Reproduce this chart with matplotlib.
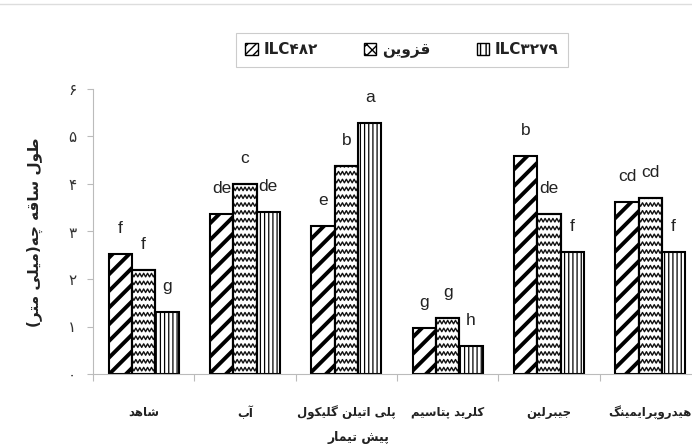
import matplotlib
matplotlib.use("Agg")
import matplotlib.pyplot as plt
import numpy as np
from matplotlib.patches import Patch
from matplotlib.lines import Line2D

# data
treatments = ["شاهد", "آب", "پلی اتیلن گلیکول", "کلرید پتاسیم", "جیبرلین", "هیدروپرایمینگ"]
ilc482 = [2.52, 3.37, 3.12, 0.96, 4.58, 3.63]
qazvin = [2.18, 3.99, 4.37, 1.18, 3.37, 3.70]
ilc3279 = [1.31, 3.41, 5.29, 0.59, 2.56, 2.56]
letters482 = ["f", "de", "e", "g", "b", "cd"]
lettersQ = ["f", "c", "b", "g", "de", "cd"]
letters3279 = ["g", "de", "a", "h", "f", "f"]
series_names = ["ILC۴۸۲", "قزوین", "ILC۳۲۷۹"]
ytick_vals = [0, 1, 2, 3, 4, 5, 6]
ytick_labels = ["۰", "۱", "۲", "۳", "۴", "۵", "۶"]
ylabel = "طول ساقه چه(میلی متر)"
xlabel = "پیش تیمار"

# presentation forms (isolated, final, initial, medial)
FORMS = {
    "ا": (0xFE8D, 0xFE8E), "آ": (0xFE81, 0xFE82),
    "ب": (0xFE8F, 0xFE90, 0xFE91, 0xFE92), "پ": (0xFB56, 0xFB57, 0xFB58, 0xFB59),
    "ت": (0xFE95, 0xFE96, 0xFE97, 0xFE98), "ج": (0xFE9D, 0xFE9E, 0xFE9F, 0xFEA0),
    "چ": (0xFB7A, 0xFB7B, 0xFB7C, 0xFB7D), "د": (0xFEA9, 0xFEAA),
    "ر": (0xFEAD, 0xFEAE), "ز": (0xFEAF, 0xFEB0),
    "س": (0xFEB1, 0xFEB2, 0xFEB3, 0xFEB4), "ش": (0xFEB5, 0xFEB6, 0xFEB7, 0xFEB8),
    "ط": (0xFEC1, 0xFEC2, 0xFEC3, 0xFEC4), "ق": (0xFED5, 0xFED6, 0xFED7, 0xFED8),
    "ک": (0xFB8E, 0xFB8F, 0xFB90, 0xFB91), "گ": (0xFB92, 0xFB93, 0xFB94, 0xFB95),
    "ل": (0xFEDD, 0xFEDE, 0xFEDF, 0xFEE0), "م": (0xFEE1, 0xFEE2, 0xFEE3, 0xFEE4),
    "ن": (0xFEE5, 0xFEE6, 0xFEE7, 0xFEE8), "ه": (0xFEE9, 0xFEEA, 0xFEEB, 0xFEEC),
    "و": (0xFEED, 0xFEEE), "ی": (0xFBFC, 0xFBFD, 0xFBFE, 0xFBFF),
}


def fa(text):
    # shape persian letters and put them in visual order
    out = []
    for i, ch in enumerate(text):
        if ch not in FORMS:
            out.append(ch)
            continue
        forms = FORMS[ch]
        prev = text[i - 1] if i > 0 else None
        nxt = text[i + 1] if i + 1 < len(text) else None
        jp = prev in FORMS and len(FORMS[prev]) == 4
        jn = len(forms) == 4 and nxt in FORMS
        if jp and jn:
            f = forms[3]
        elif jp:
            f = forms[1]
        elif jn:
            f = forms[2]
        else:
            f = forms[0]
        out.append(chr(f))
    mirror = {"(": ")", ")": "("}
    return "".join(mirror.get(c, c) for c in reversed(out))


plt.rcParams["font.family"] = ["DejaVu Sans"]
fig = plt.figure(figsize=(6.92, 4.48), dpi=100)
ax = fig.add_axes([93 / 692, 74 / 448, 608 / 692, 285 / 448])

x = np.arange(len(treatments))
w = 0.23
with plt.rc_context({"hatch.linewidth": 2.8}):
    b1 = ax.bar(x - w, ilc482, w, color="white", edgecolor="black", linewidth=1.5, hatch="//")
b2 = ax.bar(x, qazvin, w, color="white", edgecolor="black", linewidth=1.5)
with plt.rc_context({"hatch.linewidth": 0.9}):
    b3 = ax.bar(x + w, ilc3279, w, color="white", edgecolor="black", linewidth=1.5, hatch="||||")

# zigzag fill for the middle series
for p in b2.patches:
    x0, wd, h = p.get_x(), p.get_width(), p.get_height()
    xs = np.linspace(x0 - 0.02, x0 + wd + 0.02, 15)
    amp = np.where(np.arange(len(xs)) % 2 == 0, 0.0, 0.075)
    for yy in np.arange(-0.1, h + 0.1, 0.165):
        ln, = ax.plot(xs, yy + amp, color="#111111", lw=1.0, zorder=p.get_zorder() + 0.1)
        ln.set_clip_path(p)
    # outline again on top
    ax.bar(x0 + wd / 2, h, wd, color="none", edgecolor="black", linewidth=1.5, zorder=3)

for xs_, vals, labs in [(x - w, ilc482, letters482), (x, qazvin, lettersQ), (x + w, ilc3279, letters3279)]:
    for xi, v, lab in zip(xs_, vals, labs):
        ax.text(xi, v + 0.38, lab, ha="center", va="bottom", fontsize=12.5,
                family="Liberation Sans", color="#222222")

ax.set_xlim(-0.5, 5.5)
ax.set_ylim(0, 6)
ax.set_yticks(ytick_vals)
ax.set_yticklabels(ytick_labels, fontsize=11, color="#333333")
ax.tick_params(axis="y", length=4, color="#bbbbbb", pad=8)
ax.set_xticks(np.arange(-0.5, 6, 1))
ax.set_xticklabels([])
ax.tick_params(axis="x", which="major", length=5, color="#bbbbbb")
ax.set_xticks(x, minor=True)
ax.set_xticklabels([fa(t) for t in treatments], minor=True, fontsize=8.5, fontweight="bold", color="#222222")
ax.tick_params(axis="x", which="minor", length=0, pad=23)
for s in ["top", "right"]:
    ax.spines[s].set_visible(False)
for s in ["left", "bottom"]:
    ax.spines[s].set_color("#bbbbbb")

fig.text(35 / 692, 1 - 232 / 448, fa(ylabel), rotation=90, ha="center", va="center",
         fontsize=11, fontweight="bold", color="#222222")
fig.text(358 / 692, 1 - 437 / 448, fa(xlabel), ha="center", va="center",
         fontsize=9, fontweight="bold", color="#222222")

with plt.rc_context({"hatch.linewidth": 1.2}):
    handles = [Patch(facecolor="white", edgecolor="black", hatch="////"),
               Patch(facecolor="white", edgecolor="black", hatch="xxx"),
               Patch(facecolor="white", edgecolor="black", hatch="|||")]
leg = fig.legend(handles, [series_names[0], fa(series_names[1]), series_names[2]],
                 loc="center", bbox_to_anchor=(402 / 692, 1 - 50 / 448), ncol=3,
                 fancybox=False, edgecolor="#cccccc", framealpha=1, fontsize=11,
                 handlelength=0.8, handleheight=0.8, columnspacing=3.0, handletextpad=0.4,
                 borderpad=0.6)
leg.get_frame().set_linewidth(0.8)
for t in leg.get_texts():
    t.set_fontweight("bold")
    t.set_color("#222222")

fig.add_artist(Line2D([0, 1], [1 - 4 / 448, 1 - 4 / 448], color="#dddddd", lw=1))

fig.savefig("out.png", dpi=100)
